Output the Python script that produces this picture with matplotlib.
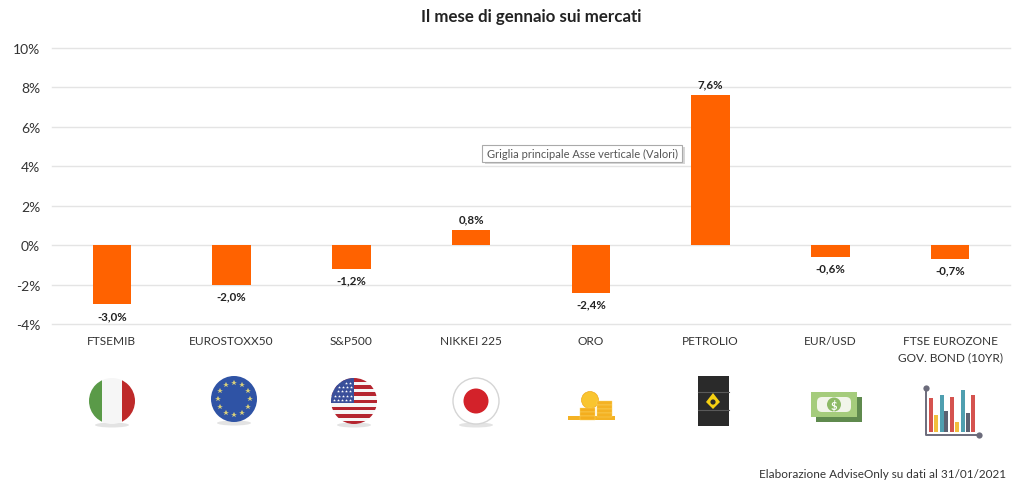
import matplotlib
matplotlib.use("Agg")
import matplotlib.pyplot as plt
from matplotlib.patches import Circle, Rectangle, Polygon, Ellipse, FancyBboxPatch

plt.rcParams["font.family"] = ["Lato", "DejaVu Sans"]

categories = ["FTSEMIB", "EUROSTOXX50", "S&P500", "NIKKEI 225", "ORO", "PETROLIO",
              "EUR/USD", "FTSE EUROZONE\nGOV. BOND (10YR)"]
values = [-3.0, -2.0, -1.2, 0.8, -2.4, 7.6, -0.6, -0.7]
labels = ["-3,0%", "-2,0%", "-1,2%", "0,8%", "-2,4%", "7,6%", "-0,6%", "-0,7%"]
yticks = [-4, -2, 0, 2, 4, 6, 8, 10]
title = "Il mese di gennaio sui mercati"
source = "Elaborazione AdviseOnly su dati al 31/01/2021"
tooltip = "Griglia principale Asse verticale (Valori)"

ORANGE = "#FF6200"
W, H = 1024, 489

fig = plt.figure(figsize=(W / 100, H / 100), dpi=100)
ax = fig.add_axes([52 / W, 1 - 325.2 / H, (1010 - 52) / W, (325.2 - 49.0) / H])

xs = list(range(len(categories)))
ax.bar(xs, values, width=0.32, color=ORANGE, zorder=3)
ax.set_xlim(-0.5, 7.5)
ax.set_ylim(-4, 10)
ax.set_yticks(yticks)
ax.set_yticklabels([f"{t}%" for t in yticks], fontsize=10, color="#333333")
ax.set_xticks(xs)
ax.set_xticklabels(categories, fontsize=8.6, color="#333333", linespacing=1.55)
ax.tick_params(axis="both", length=0)
ax.tick_params(axis="x", pad=8)
ax.tick_params(axis="y", pad=8.5)
ax.grid(axis="y", color="#E4E4E4", lw=1, zorder=0, clip_on=False)
ax.set_axisbelow(True)
for s in ax.spines.values():
    s.set_visible(False)

for x, v, lab in zip(xs, values, labels):
    off = 4 if v > 0 else -4
    ax.annotate(lab, (x, v), xytext=(0, off), textcoords="offset points", ha="center",
                va="bottom" if v > 0 else "top", fontsize=8.3, fontweight="bold", color="#222222")

# overlay in pixel coordinates for title, tooltip and the icons
ov = fig.add_axes([0, 0, 1, 1], zorder=5)
ov.set_xlim(0, W)
ov.set_ylim(H, 0)
ov.axis("off")

ov.text(531, 17, title, ha="center", va="center", fontsize=12.2, fontweight="bold", color="#222222")
ov.text(1006, 475, source, ha="right", va="center", fontsize=8.5, color="#333333")

# tooltip
ov.add_patch(Rectangle((484.5, 148), 200, 17, fc="#BBBBBB", ec="none", alpha=0.6))
ov.add_patch(Rectangle((482, 146), 200, 17, fc="white", ec="#AAAAAA", lw=0.8))
ov.text(487, 154.5, tooltip, ha="left", va="center", fontsize=8, color="#555555")


def shadow(cx, y, w=34):
    ov.add_patch(Ellipse((cx, y), w, 5, fc="#D8D8D8", ec="none", alpha=0.7))


def rects_in_circle(cx, cy, r, rects):
    clip = Circle((cx, cy), r, transform=ov.transData)
    for x0, y0, w, h, c in rects:
        p = Rectangle((x0, y0), w, h, fc=c, ec="none")
        ov.add_patch(p)
        p.set_clip_path(clip)


# Italy
shadow(112, 426)
rects_in_circle(112, 402, 23, [(89, 379, 13, 46, "#5A9A48"), (102, 379, 20, 46, "#F6F6F6"),
                               (122, 379, 13, 46, "#BE2A2A")])

# EU
shadow(234, 424)
ov.add_patch(Circle((234, 400), 23, fc="#2F53A5", ec="none"))
for dx, dy in [(0, -16), (8, -14), (14, -8), (16, 0), (14, 8), (8, 14), (0, 16), (-8, 14),
               (-14, 8), (-16, 0), (-14, -8), (-8, -14)]:
    ov.plot(234 + dx, 400 + dy, marker="*", ms=4, color="#D9CF7A", mew=0)

# USA
shadow(354, 426)
stripes = [(331, 379 + i * 3.6, 46, 3.6, "#B5252F" if i % 2 == 0 else "#F6F6F6") for i in range(13)]
rects_in_circle(354, 402, 23, stripes + [(331, 379, 23, 25, "#3A4F9A")])
for row in range(5):
    for col in range(5):
        px, py = 334 + col * 4 + (row % 2), 384 + row * 4.2
        if (px - 354) ** 2 + (py - 402) ** 2 < 21 ** 2:
            ov.plot(px, py, marker="*", ms=2.2, color="white", mew=0)

# Japan
shadow(476, 426)
ov.add_patch(Circle((476, 402), 23, fc="white", ec="#D5D5D5", lw=1))
ov.add_patch(Circle((476, 402), 12.5, fc="#D3222A", ec="none"))

# Gold
GOLD = "#F4B223"
ov.add_patch(Rectangle((568, 417), 47, 4, fc=GOLD, ec="none"))
ov.add_patch(Circle((590, 401), 8.5, fc="#F9C52F", ec="#EFA91C", lw=0.5))
for y0 in (409, 413, 417):
    ov.add_patch(Rectangle((580, y0), 15, 4, fc="#F4AE1E", ec="#FBD66A", lw=0.3))
for y0 in (402, 406, 410, 414):
    ov.add_patch(Rectangle((597, y0), 15, 4, fc=GOLD, ec="#FBD66A", lw=0.3))

# Barrel
ov.add_patch(Rectangle((698, 377), 31, 50, fc="#2A2A2A", ec="none"))
for y0 in (393, 411):
    ov.plot([698, 729], [y0, y0], color="#5A5A5A", lw=0.8)
ov.add_patch(Polygon([(713, 394), (720, 403), (713, 410), (706, 403)], fc="#F6D012", ec="none"))
ov.add_patch(Circle((713, 403), 2.6, fc="#2A2A2A", ec="none"))

# Banknotes
ov.add_patch(Rectangle((816, 398), 46, 25, fc="#5F8A4E", ec="none"))
ov.add_patch(Rectangle((811, 393), 46, 25, fc="#A5CC7C", ec="none"))
ov.add_patch(FancyBboxPatch((817, 398), 34, 15, boxstyle="round,pad=0,rounding_size=5", fc="#F2F5EA", ec="none"))
ov.add_patch(Circle((834, 405.5), 7, fc="#8DBA66", ec="none"))
ov.text(834, 405.5, "$", ha="center", va="center", fontsize=8, color="white", fontweight="bold")

# Small bar chart icon
icon_x = [929, 933.5, 939.5, 944, 950, 955, 960.5, 965.5, 971]
icon_top = [399, 416, 396, 412, 398, 423, 391, 414, 396]
icon_col = ["#D5534F", "#F2BE3E", "#4F9FB0", "#5C6272", "#D5534F", "#F2BE3E", "#4F9FB0", "#5C6272", "#D5534F"]
for bx, bt, bc in zip(icon_x, icon_top, icon_col):
    ov.add_patch(Rectangle((bx, bt), 4.4, 433 - bt, fc=bc, ec="none"))
ov.plot([926, 926, 979], [389, 436, 436], color="#6B6B7B", lw=1.4)
ov.plot([926, 979], [389, 436], ls="none", marker="o", ms=4.5, color="#6B6B7B", mew=0)

fig.savefig("out.png", dpi=100, facecolor="white")
